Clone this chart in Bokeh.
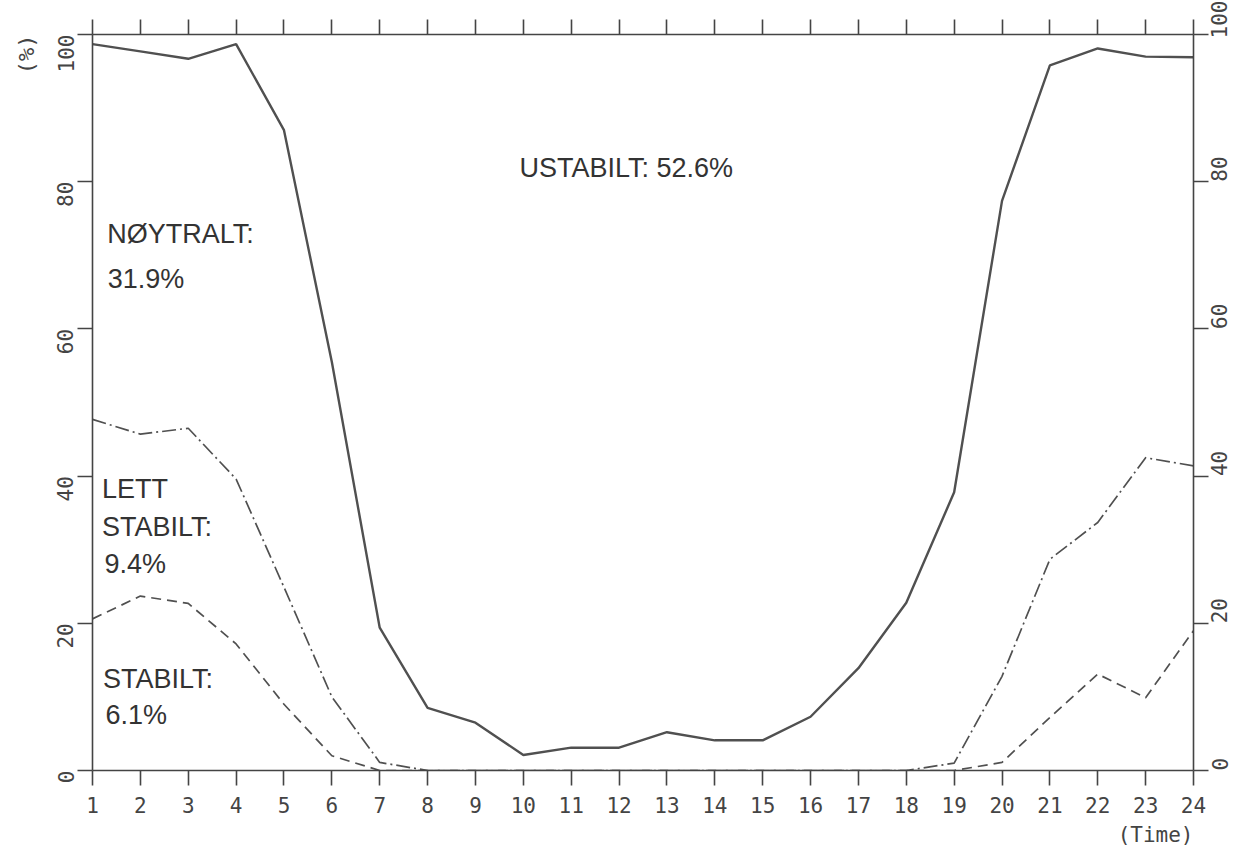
import math
from bokeh.plotting import figure
from bokeh.models import LinearAxis, FixedTicker, Range1d, Label, Title
from bokeh.embed import file_html
from bokeh.resources import INLINE

# ---- data ----
hours = list(range(1, 25))
ustabilt_curve = [98.7, 97.7, 96.7, 98.7, 87.0, 55.5, 19.4, 8.5, 6.5, 2.1, 3.1, 3.1,
                  5.2, 4.1, 4.1, 7.3, 13.9, 22.8, 37.8, 77.4, 95.8, 98.1, 97.0, 96.9]
lett_stabilt_curve = [47.7, 45.7, 46.5, 39.6, 24.9, 10.0, 1.1, 0.0, 0.0, 0.0, 0.0, 0.0,
                      0.0, 0.0, 0.0, 0.0, 0.0, 0.0, 1.0, 12.8, 28.7, 33.7, 42.5, 41.4]
stabilt_curve = [20.6, 23.7, 22.7, 17.2, 9.0, 2.0, 0.0, 0.0, 0.0, 0.0, 0.0, 0.0,
                 0.0, 0.0, 0.0, 0.0, 0.0, 0.0, 0.0, 1.1, 7.2, 13.1, 9.9, 19.0]
y_ticks = [0, 20, 40, 60, 80, 100]

label_texts = ["USTABILT: 52.6%", "NØYTRALT:", "31.9%", "LETT", "STABILT:", "9.4%",
               "STABILT:", "6.1%"]
label_x = [9.92, 1.31, 1.32, 1.20, 1.20, 1.25, 1.22, 1.27]
label_y = [81.9, 72.9, 66.8, 38.3, 33.1, 28.1, 12.4, 7.5]

x_title = "(Time)"
y_title = "(%)"

INK = "#444444"
LINE = "#505050"
TEXT = "#333333"
MONO = "DejaVu Sans Mono"

p = figure(width=1238, height=851, output_backend="svg", toolbar_location=None,
           x_range=Range1d(1, 24), y_range=Range1d(0, 100),
           x_axis_location=None, y_axis_location=None,
           min_border_left=92, min_border_right=44, min_border_top=34,
           min_border_bottom=81)
p.outline_line_color = None
p.xgrid.visible = False
p.ygrid.visible = False
p.background_fill_color = "white"
p.border_fill_color = "white"


def style(ax, ticks, orient=None, size="21px", standoff=6):
    ax.ticker = FixedTicker(ticks=ticks)
    ax.axis_line_color = INK
    ax.axis_line_width = 1.6
    ax.major_tick_line_color = INK
    ax.major_tick_line_width = 1.6
    ax.major_tick_out = 15
    ax.major_tick_in = 0
    ax.minor_tick_line_color = None
    ax.major_label_text_font = MONO
    ax.major_label_text_font_size = size
    ax.major_label_text_color = INK
    ax.major_label_standoff = standoff
    if orient is not None:
        ax.major_label_orientation = orient


bottom = LinearAxis()
style(bottom, hours, standoff=11)
p.add_layout(bottom, "below")

top = LinearAxis()
style(top, hours, size="10px", standoff=0)
top.major_label_text_color = None
p.add_layout(top, "above")

left = LinearAxis()
style(left, y_ticks, orient=math.pi / 2, standoff=12)
p.add_layout(left, "left")

right = LinearAxis()
style(right, y_ticks, orient=math.pi / 2, standoff=11)
p.add_layout(right, "right")

p.add_layout(Title(text=x_title, align="right", text_font=MONO, text_font_size="21px",
                   text_font_style="normal", text_color=INK, standoff=10), "below")
p.add_layout(Title(text=y_title, align="right", text_font=MONO, text_font_size="22px",
                   text_font_style="normal", text_color=INK, standoff=16), "left")

p.line(hours, ustabilt_curve, line_color=LINE, line_width=2.4)
p.line(hours, lett_stabilt_curve, line_color=LINE, line_width=1.7, line_dash="14 4 2 4")
p.line(hours, stabilt_curve, line_color=LINE, line_width=1.7, line_dash="10 6")

for t, x, y in zip(label_texts, label_x, label_y):
    p.add_layout(Label(x=x, y=y, text=t, text_font="Liberation Sans",
                       text_font_size="27px", text_color=TEXT,
                       text_align="left", text_baseline="alphabetic"))

open("out.html", "w").write(file_html(p, INLINE))
